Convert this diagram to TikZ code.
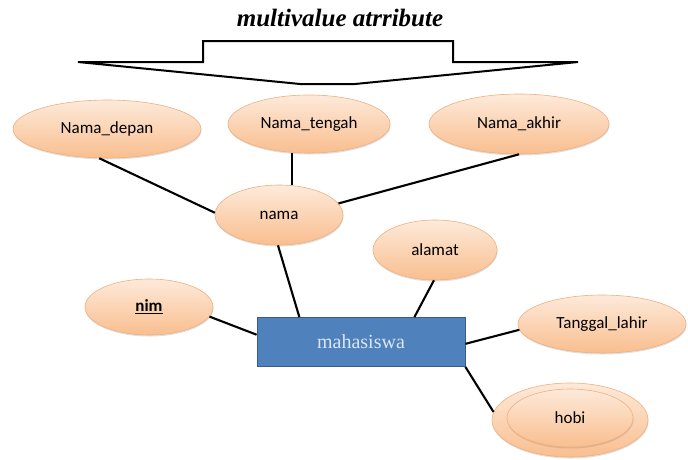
\documentclass[tikz,border=0pt]{standalone}
\usepackage{fontspec}
\setmainfont{Liberation Serif}
\newfontfamily\attrfont{Carlito}
\usetikzlibrary{shapes.geometric,shadows}
\definecolor{attrtop}{RGB}{253,234,218}
\definecolor{attrbot}{RGB}{249,190,143}
\definecolor{attrline}{RGB}{240,175,125}
\definecolor{entblue}{RGB}{79,129,189}
\definecolor{entline}{RGB}{56,93,138}
\definecolor{enttext}{RGB}{220,230,242}
\tikzset{
  attr/.style={ellipse, draw=attrline, line width=0.6pt, top color=attrtop,
    bottom color=attrbot, inner sep=0pt, text=black,
    font=\attrfont\fontsize{17}{19}\selectfont,
    drop shadow={opacity=0.25, shadow xshift=0.5pt, shadow yshift=-1.5pt}},
  entity/.style={rectangle, draw=entline, line width=0.8pt, fill=entblue,
    text=enttext, minimum width=208pt, minimum height=49pt,
    font=\fontsize{20}{22}\selectfont},
  link/.style={line width=2.1pt, black}
}

\begin{document}
\begin{tikzpicture}[x=1pt,y=-1pt]
\useasboundingbox (0,0) rectangle (688,459);

% multivalue arrow
\node[font=\fontsize{25}{28}\selectfont\bfseries\itshape] (title) at (340,18) {multivalue atrribute};
\draw[line width=2pt, fill=white] (78,62) -- (203,62) -- (203,41) -- (453,41) -- (453,62)
  -- (578,62) -- (355,84) -- (300,84) -- cycle;

% composite attribute
\node[attr, minimum width=188pt, minimum height=58pt] (depan) at (107,129) {Nama\_depan};
\node[attr, minimum width=162pt, minimum height=58pt] (tengah) at (309,124) {Nama\_tengah};
\node[attr, minimum width=180pt, minimum height=60pt] (akhir) at (519,124) {Nama\_akhir};
\node[attr, minimum width=128pt, minimum height=60pt] (nama) at (279,215) {nama};

% entity and its attributes
\node[entity] (maha) at (361,342) {mahasiswa};
\node[attr, minimum width=124pt, minimum height=60pt] (alamat) at (435,250) {alamat};
\node[attr, minimum width=128pt, minimum height=56pt] (nim) at (149,307) {\underline{\textbf{nim}}};
\node[attr, minimum width=168pt, minimum height=58pt] (tanggal) at (602,324) {Tanggal\_lahir};
\node[attr, minimum width=156pt, minimum height=74pt] (hobi) at (570,420) {};
\node[attr, minimum width=126pt, minimum height=58pt] (hobiin) at (570,418) {hobi};

\draw[link] (depan.-105) -- (nama.178);
\draw[link] (nama.66) -- (nama.66 |- tengah.south);
\draw[link] (akhir.-90) -- (nama.11);
\draw[link] (nama.-92) -- (maha.158);
\draw[link] (alamat.-92) -- (maha.25);
\draw[link] (nim.-9) -- (maha.176);
\draw[link] (tanggal.184) -- (maha.-1);
\draw[link] (hobi.174) -- (maha.south east);

\end{tikzpicture}
\end{document}
